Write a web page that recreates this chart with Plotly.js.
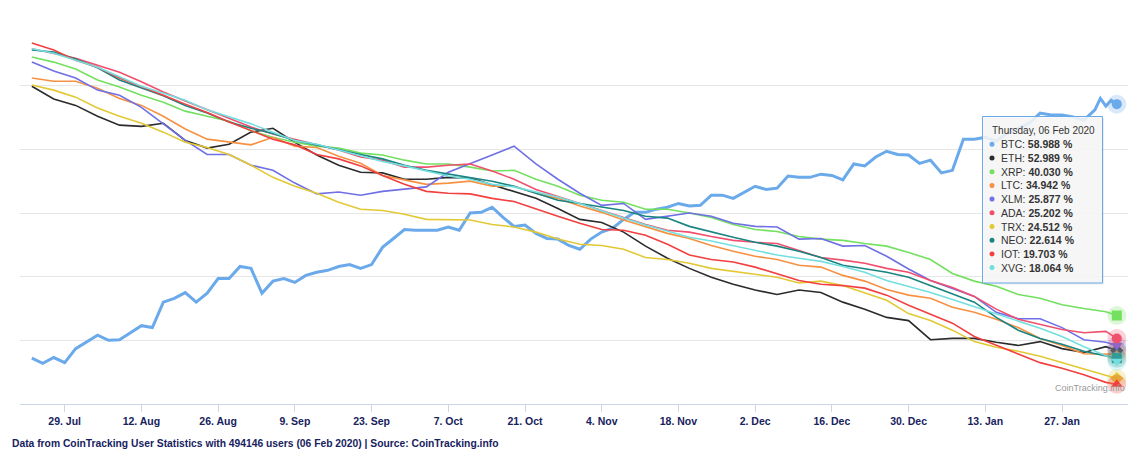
<!DOCTYPE html>
<html>
<head>
<meta charset="utf-8">
<script src="https://cdn.plot.ly/plotly-3.0.1.min.js"></script>
<style>
  html, body { margin: 0; padding: 0; background: #ffffff; }
  #chart { width: 1140px; height: 463px; }
</style>
</head>
<body>
<div id="chart"></div>
<script>
// ---------------- DATA (hidden per-series axes; values in relative chart units 0-60) ----------------
const names = ['BTC','ETH','XRP','LTC','XLM','ADA','TRX','NEO','IOT','XVG'];
const colors = ['#6aa9ea','#2b2b2b','#74e060','#f79142','#6f6fe6','#f0506e','#e2c934','#1a8480','#f23f3f','#74dfe0'];
const symbols = ['circle','diamond','square','triangle-up','triangle-down','circle','diamond','square','triangle-up','triangle-down'];
const tooltipValues = ['58.988','52.989','40.030','34.942','25.877','25.202','24.512','22.614','19.703','18.064'];
const tooltipHeader = 'Thursday, 06 Feb 2020';

const tickDates = ['2019-07-29','2019-08-12','2019-08-26','2019-09-09','2019-09-23','2019-10-07','2019-10-21',
  '2019-11-04','2019-11-18','2019-12-02','2019-12-16','2019-12-30','2020-01-13','2020-01-27'];
const tickLabels = ['29. Jul','12. Aug','26. Aug','9. Sep','23. Sep','7. Oct','21. Oct',
  '4. Nov','18. Nov','2. Dec','16. Dec','30. Dec','13. Jan','27. Jan'];

const datesBTC = [
  '2019-07-23','2019-07-25','2019-07-27','2019-07-29','2019-07-31',
  '2019-08-02','2019-08-04','2019-08-06','2019-08-08','2019-08-10','2019-08-12','2019-08-14','2019-08-16',
  '2019-08-18','2019-08-20','2019-08-22','2019-08-24','2019-08-26','2019-08-28','2019-08-30',
  '2019-09-01','2019-09-03','2019-09-05','2019-09-07','2019-09-09','2019-09-11','2019-09-13','2019-09-15',
  '2019-09-17','2019-09-19','2019-09-21','2019-09-23','2019-09-25','2019-09-27','2019-09-29',
  '2019-10-01','2019-10-03','2019-10-05','2019-10-07','2019-10-09','2019-10-11','2019-10-13','2019-10-15',
  '2019-10-17','2019-10-19','2019-10-21','2019-10-23','2019-10-25','2019-10-27','2019-10-29','2019-10-31',
  '2019-11-02','2019-11-04','2019-11-06','2019-11-08','2019-11-10','2019-11-12','2019-11-14','2019-11-16',
  '2019-11-18','2019-11-20','2019-11-22','2019-11-24','2019-11-26','2019-11-28','2019-11-30',
  '2019-12-02','2019-12-04','2019-12-06','2019-12-08','2019-12-10','2019-12-12','2019-12-14','2019-12-16',
  '2019-12-18','2019-12-20','2019-12-22','2019-12-24','2019-12-26','2019-12-28','2019-12-30',
  '2020-01-01','2020-01-03','2020-01-05','2020-01-07','2020-01-09','2020-01-11','2020-01-13','2020-01-15',
  '2020-01-17','2020-01-19','2020-01-21','2020-01-23','2020-01-25','2020-01-27','2020-01-29','2020-01-31',
  '2020-02-02','2020-02-03','2020-02-04','2020-02-05','2020-02-06'];

const btc = [7.2,6.4,7.3,6.5,8.7,
  9.7,10.8,10.0,10.1,11.2,12.3,12.0,16.0,16.6,17.5,16.0,17.4,19.7,19.7,21.6,
  21.3,17.4,19.3,19.7,19.1,20.2,20.7,21.0,21.6,21.9,21.3,21.9,24.6,26.0,27.4,
  27.3,27.3,27.3,27.8,27.3,30.0,30.1,30.9,29.3,27.9,28.1,26.8,26.0,25.9,24.9,24.3,
  25.9,27.0,27.6,29.0,30.1,30.1,30.6,30.9,31.5,31.1,31.2,32.8,32.8,32.3,33.3,
  34.2,33.7,33.9,35.8,35.6,35.6,36.1,35.9,35.2,37.7,37.4,38.8,39.7,39.2,39.1,
  37.8,38.3,36.3,36.7,41.6,41.6,41.9,41.3,42.5,43.3,44.1,45.7,45.4,45.4,45.1,44.6,
  46.2,48.0,46.8,47.7,47.1];

const dates = [
  '2019-07-23','2019-07-27','2019-07-31','2019-08-04','2019-08-08','2019-08-12','2019-08-16','2019-08-20',
  '2019-08-24','2019-08-28','2019-09-01','2019-09-05','2019-09-09','2019-09-13','2019-09-17','2019-09-21',
  '2019-09-25','2019-09-29','2019-10-03','2019-10-07','2019-10-11','2019-10-15','2019-10-19','2019-10-23',
  '2019-10-27','2019-10-31','2019-11-04','2019-11-08','2019-11-12','2019-11-16','2019-11-20','2019-11-24',
  '2019-11-28','2019-12-02','2019-12-06','2019-12-10','2019-12-14','2019-12-18','2019-12-22','2019-12-26',
  '2019-12-30','2020-01-03','2020-01-07','2020-01-11','2020-01-15','2020-01-19','2020-01-23','2020-01-27',
  '2020-01-31','2020-02-04','2020-02-06'];

const eth = [49.9,47.9,46.9,45.2,43.8,43.6,44.1,41.4,40.2,40.8, 42.7,43.3,41.1,39.1,37.5,36.4,36.3,35.3,35.3,35.6,
  35.5,34.4,33.3,32.3,30.7,29.0,28.5,27.0,24.8,22.9, 21.3,19.9,18.8,17.9,17.2,17.9,17.5,16.0,14.9,13.6,
  13.1,10.1,10.3,10.3,9.7,9.2,9.8,8.7,8.1,9.0, 8.4];
const xrp = [54.5,53.7,52.6,50.9,49.8,48.5,47.4,46.0,45.2,44.4, 42.9,41.9,41.1,40.5,40.2,39.4,39.1,38.3,37.7,37.7,
  37.2,36.6,36.7,35.3,34.2,32.8,32.0,31.7,30.6,30.6, 30.0,29.3,28.2,27.4,27.1,26.3,25.9,25.7,25.2,24.8,
  23.8,22.7,20.5,19.3,18.5,17.2,16.6,15.6,15.0,14.5, 13.9];
const ltc = [51.2,50.7,50.7,49.6,48.0,46.9,45.2,43.2,41.6,41.1, 40.7,41.9,40.5,40.3,38.9,37.8,35.9,35.2,34.5,34.7,
  35.0,34.2,34.2,33.1,32.3,31.1,30.1,28.9,27.9,26.8, 26.0,24.9,24.0,23.2,22.7,21.8,21.5,20.2,19.3,18.0,
  17.1,16.6,15.2,14.4,13.3,12.0,10.3,9.2,7.9,7.9, 7.8];
const xlm = [53.7,52.3,51.2,49.3,48.5,46.6,44.0,41.4,39.2,39.2, 37.5,36.7,34.7,33.0,33.3,32.8,33.4,33.7,34.1,36.4,
  37.7,39.1,40.5,37.7,35.3,33.1,31.2,31.5,29.0,29.5, 30.0,29.5,28.4,27.9,27.8,25.9,26.0,24.8,24.9,23.2,
  21.2,19.4,18.2,16.9,14.4,13.4,13.4,12.0,10.1,9.7, 9.2];
const ada = [55.8,55.1,54.3,53.2,52.1,50.6,49.0,47.6,46.2,44.9, 43.5,42.4,41.6,40.7,39.9,38.8,38.3,37.2,37.2,37.5,
  37.7,36.6,35.3,33.7,32.6,31.4,30.4,29.3,28.2,27.3, 27.0,26.3,25.7,25.4,25.2,24.1,23.0,22.6,22.1,21.3,
  20.7,19.4,18.3,16.9,14.9,13.3,12.5,11.7,11.2,11.4, 10.3];
const trx = [50.1,49.3,48.2,46.5,45.2,44.1,42.7,41.1,40.3,39.2, 37.5,35.6,34.2,33.1,31.7,30.6,30.4,29.8,29.0,28.9,
  28.9,28.2,27.8,27.0,25.9,25.1,24.9,24.3,23.0,22.7, 22.1,21.3,20.8,20.4,19.9,19.0,19.3,18.6,17.5,16.3,
  14.2,13.1,11.6,9.8,8.9,8.3,7.5,6.5,5.6,4.5, 4.0];
const neo = [55.6,55.3,54.2,52.8,50.9,49.6,48.4,46.9,45.7,44.3, 43.3,42.5,41.4,40.7,39.9,39.2,38.5,37.5,36.7,36.1,
  35.5,35.0,34.2,33.1,32.0,31.5,30.9,30.4,29.5,29.2, 27.9,27.0,26.2,25.4,24.8,24.0,23.0,21.8,21.3,20.7,
  19.9,18.6,17.4,16.0,13.6,11.6,10.3,9.4,8.3,7.5, 7.2];
const iot = [56.7,55.6,54.0,52.9,51.2,49.9,48.5,47.1,45.8,44.3, 42.9,41.6,40.7,39.2,38.5,37.4,35.9,34.5,33.4,33.1,
  33.0,32.3,31.8,30.6,29.5,28.4,27.4,27.3,26.5,25.1, 23.4,22.7,22.3,21.5,20.5,19.4,18.8,18.6,18.2,17.1,
  15.5,14.1,12.7,10.6,9.2,7.9,6.5,5.6,4.6,3.4, 3.1];
const xvg = [55.8,55.1,54.0,52.9,51.4,49.9,48.8,47.7,46.2,45.1, 44.0,42.7,41.4,40.8,39.9,39.1,38.1,37.4,36.6,35.8,
  35.3,34.5,34.1,33.3,32.5,31.5,30.3,29.2,28.1,27.1, 26.2,25.6,24.9,24.1,23.4,22.9,22.4,21.6,20.7,19.4,
  18.5,17.5,16.4,15.3,14.2,13.1,11.9,10.6,9.0,7.6, 6.7];

const caption = 'Data from CoinTracking User Statistics with 494146 users (06 Feb 2020) | Source: CoinTracking.info';
const credit = 'CoinTracking.info';

// ---------------- BUILD ----------------
const seriesX = [datesBTC, dates, dates, dates, dates, dates, dates, dates, dates, dates];
const seriesY = [btc, eth, xrp, ltc, xlm, ada, trx, neo, iot, xvg];

const W = 1140, H = 463, ML = 20, MR = 12, MT = 22, MB = 59;
const PW = W - ML - MR, PH = H - MT - MB;
const pxX = x => (x - ML) / PW;
const pxY = y => (H - MB - y) / PH;

const traces = [];
names.forEach((n, i) => {
  traces.push({
    type: 'scatter', mode: 'lines', name: n,
    x: seriesX[i], y: seriesY[i],
    line: { color: colors[i], width: i === 0 ? 3 : 1.6 },
    hoverinfo: 'skip', showlegend: false
  });
});
// hover-state end markers with halos
names.forEach((n, i) => {
  const lx = seriesX[i][seriesX[i].length - 1];
  const ly = seriesY[i][seriesY[i].length - 1];
  traces.push({
    type: 'scatter', mode: 'markers', x: [lx], y: [ly],
    marker: { symbol: 'circle', size: 19, color: colors[i], opacity: 0.25 },
    hoverinfo: 'skip', showlegend: false, cliponaxis: false
  });
  traces.push({
    type: 'scatter', mode: 'markers', x: [lx], y: [ly],
    marker: { symbol: symbols[i], size: 10, color: colors[i] },
    hoverinfo: 'skip', showlegend: false, cliponaxis: false
  });
});

// tooltip box
const tipL = 982.5, tipR = 1102.5, tipT = 116.5, tipB = 283;
const shapes = [
  { type: 'rect', xref: 'paper', yref: 'paper', layer: 'above',
    x0: pxX(tipL + 1.5), x1: pxX(tipR + 1.5), y0: pxY(tipB + 1.5), y1: pxY(tipT + 1.5),
    line: { width: 0 }, fillcolor: 'rgba(0,0,0,0.07)' },
  { type: 'rect', xref: 'paper', yref: 'paper', layer: 'above',
    x0: pxX(tipL), x1: pxX(tipR), y0: pxY(tipB), y1: pxY(tipT),
    line: { color: colors[0], width: 1 }, fillcolor: 'rgba(247,247,247,0.88)' }
];
const annotations = [
  { xref: 'paper', yref: 'paper', x: pxX(990), y: pxY(130.7), xanchor: 'left', yanchor: 'middle',
    text: tooltipHeader, showarrow: false,
    font: { family: 'Liberation Sans, Arial, sans-serif', size: 10, color: '#333333' } }
];
names.forEach((n, i) => {
  const cy = 144.3 + 13.7 * i;
  shapes.push({ type: 'circle', xref: 'paper', yref: 'paper', layer: 'above',
    x0: pxX(989.5), x1: pxX(994.5), y0: pxY(cy + 2.5), y1: pxY(cy - 2.5),
    line: { width: 0 }, fillcolor: colors[i] });
  annotations.push({ xref: 'paper', yref: 'paper', x: pxX(998.5), y: pxY(cy), xanchor: 'left', yanchor: 'middle',
    text: n + ': <b>' + tooltipValues[i] + ' %</b>', showarrow: false,
    font: { family: 'Liberation Sans, Arial, sans-serif', size: 10.5, color: '#333333' } });
});
// credit & caption
annotations.push({ xref: 'paper', yref: 'paper', x: pxX(1127), y: pxY(388), xanchor: 'right', yanchor: 'middle',
  text: credit, showarrow: false, font: { family: 'Liberation Sans, Arial, sans-serif', size: 9, color: '#999999' } });
annotations.push({ xref: 'paper', yref: 'paper', x: pxX(10), y: pxY(443), xanchor: 'left', yanchor: 'middle',
  text: '<b>' + caption + '</b>', showarrow: false,
  font: { family: 'Liberation Sans, Arial, sans-serif', size: 10.3, color: '#17225e' } });

const layout = {
  width: W, height: H,
  margin: { l: ML, r: MR, t: MT, b: MB, pad: 0 },
  paper_bgcolor: '#ffffff', plot_bgcolor: '#ffffff',
  showlegend: false, hovermode: false,
  xaxis: {
    type: 'date', range: ['2019-07-20 20:15', '2020-02-08 01:00'],
    tickmode: 'array', tickvals: tickDates, ticktext: tickLabels,
    showgrid: false, zeroline: false,
    showline: true, linecolor: '#ccd6eb', linewidth: 1,
    ticks: 'outside', ticklen: 7, tickcolor: '#ccd6eb', tickwidth: 1,
    tickfont: { family: 'Liberation Sans, Arial, sans-serif', size: 10.5, color: '#17225e', weight: 'bold' }
  },
  yaxis: {
    range: [0, 60], dtick: 10, tick0: 0, showticklabels: false,
    showgrid: true, gridcolor: '#e6e6e6', gridwidth: 1, zeroline: false, ticks: ''
  },
  shapes: shapes,
  annotations: annotations
};

Plotly.newPlot('chart', traces, layout, { staticPlot: true, displayModeBar: false });
</script>
</body>
</html>
